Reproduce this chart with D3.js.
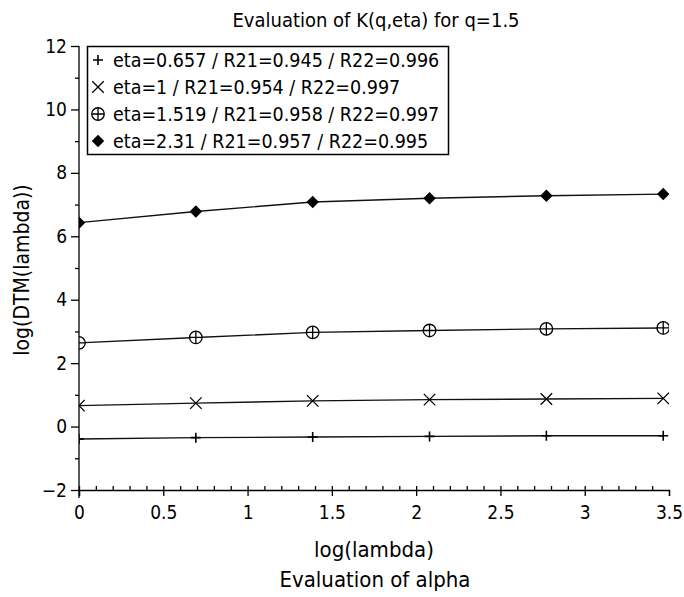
<!DOCTYPE html>
<html>
<head>
<meta charset="utf-8">
<script src="https://cdn.jsdelivr.net/npm/d3@7"></script>
<style>
  body { margin: 0; background: #fff; }
  svg { display: block; }
  text { font-family: "DejaVu Sans Condensed", "Liberation Sans", sans-serif; fill: #000; }
</style>
</head>
<body>
<svg id="chart" width="684" height="597"></svg>
<script>
// log(lambda) for lambda = 1, 2, 4, 8, 16, 32
const lambdas = [1, 2, 4, 8, 16, 32];
const logLambda = lambdas.map(Math.log);

const seriesNames = [
  "eta=0.657 / R21=0.945 / R22=0.996",
  "eta=1 / R21=0.954 / R22=0.997",
  "eta=1.519 / R21=0.958 / R22=0.997",
  "eta=2.31 / R21=0.957 / R22=0.995"
];
const seriesSymbols = ["plus", "cross", "circlePlus", "diamond"];

// log(DTM(lambda)) per eta
const eta0657 = [-0.39, -0.35, -0.33, -0.31, -0.29, -0.29];
const eta1    = [0.66, 0.74, 0.81, 0.85, 0.87, 0.89];
const eta1519 = [2.64, 2.81, 2.97, 3.03, 3.08, 3.11];
const eta231  = [6.43, 6.78, 7.08, 7.20, 7.28, 7.33];
const seriesValues = [eta0657, eta1, eta1519, eta231];

const xTicks = [0, 0.5, 1, 1.5, 2, 2.5, 3, 3.5];
const yTicks = [-2, 0, 2, 4, 6, 8, 10, 12];

const titleText = "Evaluation of K(q,eta) for q=1.5";
const xLabel = "log(lambda)";
const xSubLabel = "Evaluation of alpha";
const yLabel = "log(DTM(lambda))";

const svg = d3.select("#chart");
const m = { left: 79, right: 669, top: 46, bottom: 490 };

const x = d3.scaleLinear().domain([0, 3.5]).range([m.left, m.right]);
const y = d3.scaleLinear().domain([-2, 12]).range([m.bottom, m.top]);

svg.append("defs").append("clipPath").attr("id", "plotClip")
  .append("rect").attr("x", m.left).attr("y", m.top)
  .attr("width", m.right - m.left).attr("height", m.bottom - m.top);

// Title
svg.append("text").attr("x", 376).attr("y", 27)
  .attr("text-anchor", "middle").style("font-size", "20px").text(titleText);

// Y axis: major and minor ticks pointing outward
const yAxis = svg.append("g").attr("transform", `translate(${m.left},0)`);
yAxis.call(d3.axisLeft(y).tickValues(yTicks).tickSize(8).tickPadding(4)
  .tickFormat(d => d < 0 ? "\u2212" + Math.abs(d) : d));
yAxis.append("g").call(d3.axisLeft(y).tickValues(d3.range(-1, 12, 2)).tickSize(4).tickFormat(""))
  .select(".domain").remove();
yAxis.selectAll("text").style("font-size", "19px").style("font-family", "DejaVu Sans Condensed, Liberation Sans, sans-serif");
yAxis.select(".domain").attr("d", `M0,${m.top}V${m.bottom + 8}`);

// X axis: major ticks outward, minor ticks inward
const xAxis = svg.append("g").attr("transform", `translate(0,${m.bottom})`);
xAxis.call(d3.axisBottom(x).tickValues(xTicks).tickSize(6).tickPadding(10)
  .tickFormat(d3.format("")));
xAxis.append("g").call(d3.axisTop(x).tickValues(d3.range(0, 35).map(i => i / 10)).tickSize(4).tickFormat(""))
  .select(".domain").remove();
xAxis.selectAll("text").style("font-size", "19px").style("font-family", "DejaVu Sans Condensed, Liberation Sans, sans-serif");
svg.selectAll(".domain, .tick line").attr("stroke", "#000").attr("stroke-width", 1.3);

// Axis titles
svg.append("text").attr("x", 374).attr("y", 557).attr("text-anchor", "middle")
  .style("font-size", "22px").text(xLabel);
svg.append("text").attr("x", 375).attr("y", 587).attr("text-anchor", "middle")
  .style("font-size", "22px").text(xSubLabel);
svg.append("text").attr("transform", "translate(29,270) rotate(-90)")
  .attr("text-anchor", "middle").style("font-size", "21px").text(yLabel);

// Marker drawing
function drawSymbol(g, kind, s) {
  if (kind === "plus") {
    g.append("path").attr("d", `M${-s},0H${s}M0,${-s}V${s}`)
      .attr("stroke", "#000").attr("stroke-width", 1.6).attr("fill", "none");
  } else if (kind === "cross") {
    const c = s * 1.15;
    g.append("path").attr("d", `M${-c},${-c}L${c},${c}M${-c},${c}L${c},${-c}`)
      .attr("stroke", "#000").attr("stroke-width", 1.3).attr("fill", "none");
  } else if (kind === "circlePlus") {
    g.append("circle").attr("r", s * 1.25).attr("fill", "#fff")
      .attr("stroke", "#000").attr("stroke-width", 1.3);
    g.append("path").attr("d", `M${-s * 1.25},0H${s * 1.25}M0,${-s * 1.25}V${s * 1.25}`)
      .attr("stroke", "#000").attr("stroke-width", 1.3);
  } else if (kind === "diamond") {
    const d = s * 1.25;
    g.append("path").attr("d", `M0,${-d}L${d},0L0,${d}L${-d},0Z`).attr("fill", "#000");
  }
}

const line = d3.line().x((d, i) => x(logLambda[i])).y(d => y(d));
const plot = svg.append("g").attr("clip-path", "url(#plotClip)");

seriesValues.forEach((vals, si) => {
  plot.append("path").datum(vals).attr("d", line)
    .attr("fill", "none").attr("stroke", "#111").attr("stroke-width", 1.4);
  vals.forEach((v, i) => {
    const g = plot.append("g").attr("transform", `translate(${x(logLambda[i])},${y(v)})`);
    drawSymbol(g, seriesSymbols[si], 5);
  });
});

// Legend
const legend = svg.append("g");
legend.append("rect").attr("x", 87.5).attr("y", 46.5).attr("width", 361).attr("height", 108)
  .attr("fill", "#fff").attr("stroke", "#000").attr("stroke-width", 1.5);
seriesNames.forEach((name, i) => {
  const cy = 60 + i * 27;
  const g = legend.append("g").attr("transform", `translate(98,${cy})`);
  drawSymbol(g, seriesSymbols[i], 5);
  legend.append("text").attr("x", 113).attr("y", cy + 7)
    .style("font-size", "19.5px").text(name);
});
</script>
</body>
</html>
